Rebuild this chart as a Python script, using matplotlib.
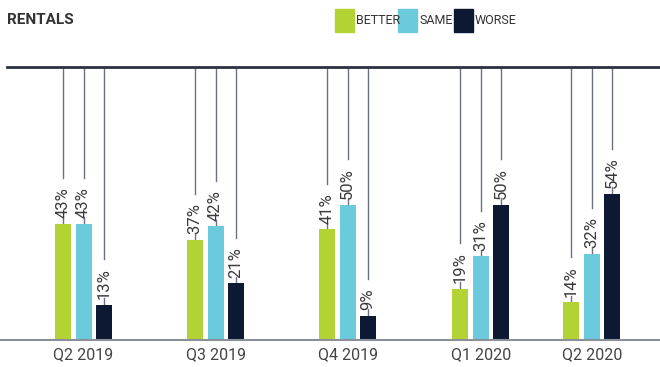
import matplotlib.pyplot as plt
from matplotlib.patches import Rectangle

quarters = ['Q2 2019', 'Q3 2019', 'Q4 2019', 'Q1 2020', 'Q2 2020']
better = [43, 37, 41, 19, 14]
same = [43, 42, 50, 31, 32]
worse = [13, 21, 9, 50, 54]
series_names = ['BETTER', 'SAME', 'WORSE']

# layout (group centres in the original are not evenly spaced at the end)
group_x = [0, 1, 2, 3.01, 3.85]
colors = ['#b3d335', '#6bcadb', '#0d1833']
plt.rcParams['font.family'] = ['Roboto', 'DejaVu Sans']

fig = plt.figure(figsize=(6.6, 3.67), dpi=100)
ax = fig.add_axes([0, 27 / 367, 1, 273 / 367])
ax.set_xlim(-83.5 / 132, (660 - 83.5) / 132)
ax.set_ylim(0, 101)

bw = 16 / 132
step = 20.5 / 132
labels = []
for i, vals in enumerate([better, same, worse]):
    xs = [g + (i - 1) * step for g in group_x]
    ax.bar(xs, vals, width=bw, color=colors[i], zorder=2)
    for x, v in zip(xs, vals):
        t = ax.annotate(f'{v}%', xy=(x, v), xytext=(0, 4), textcoords='offset points',
                        rotation=90, ha='center', va='bottom', fontsize=12,
                        color='#3a3a3a', zorder=3)
        labels.append((x, v, t))

for s in ['top', 'left', 'right']:
    ax.spines[s].set_visible(False)
ax.spines['bottom'].set_color('#8a8f9a')
ax.spines['bottom'].set_linewidth(1.5)
ax.set_yticks([])
ax.set_xticks(group_x)
ax.set_xticklabels(quarters, fontsize=11.5, color='#444444')
ax.tick_params(axis='x', length=0, pad=5)

# leader lines: short tick under the label, long line above it
fig.canvas.draw()
r = fig.canvas.get_renderer()
inv = ax.transData.inverted()
for x, v, t in labels:
    bb = t.get_window_extent(r)
    y0 = inv.transform((0, bb.y0 + 1))[1]
    y1 = inv.transform((0, bb.y1 + 9))[1]
    ax.plot([x, x], [v, y0], color='#6d7282', lw=1, zorder=1)
    ax.plot([x, x], [y1, 101], color='#6d7282', lw=1, zorder=1, clip_on=False)

# top rule
fig.add_artist(plt.Line2D([7 / 660, 1], [1 - 67 / 367] * 2, color='#2b3142', lw=2))

fig.text(7 / 660, 1 - 20 / 367, 'RENTALS', fontsize=11, fontweight='bold',
         color='#333333', va='center', ha='left')

# legend
leg_x = [335, 398, 454]
for i, name in enumerate(series_names):
    fig.add_artist(Rectangle((leg_x[i] / 660, 1 - 32 / 367), 19 / 660, 23 / 367,
                             color=colors[i], transform=fig.transFigure))
    fig.text((leg_x[i] + 21) / 660, 1 - 21 / 367, name, fontsize=9,
             color='#333333', va='center', ha='left')

fig.savefig('out.png', dpi=100)
